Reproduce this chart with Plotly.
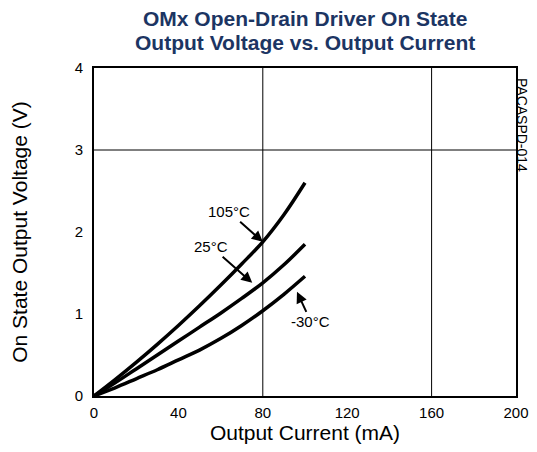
import plotly.graph_objects as go

current_ma = [0, 10, 20, 30, 40, 50, 60, 70, 80, 90, 100]
v_105c = [0, 0.20, 0.41, 0.63, 0.86, 1.10, 1.35, 1.61, 1.88, 2.21, 2.60]
v_25c = [0, 0.16, 0.33, 0.50, 0.67, 0.84, 1.01, 1.19, 1.38, 1.60, 1.85]
v_m30c = [0, 0.10, 0.21, 0.32, 0.44, 0.56, 0.70, 0.86, 1.04, 1.24, 1.46]
x_ticks = [0, 40, 80, 120, 160, 200]
y_ticks = [0, 1, 2, 3, 4]
grid_x = [80, 160]
grid_y = [3]
title_lines = ["OMx Open-Drain Driver On State", "Output Voltage vs. Output Current"]

font = "Liberation Sans, Arial, sans-serif"

fig = go.Figure()
for name, ys in [("105°C", v_105c), ("25°C", v_25c), ("-30°C", v_m30c)]:
    fig.add_trace(go.Scatter(x=current_ma, y=ys, mode="lines", name=name,
                             line=dict(color="black", width=3.5, shape="spline", smoothing=1.0),
                             showlegend=False))

for gx in grid_x:
    fig.add_shape(type="line", x0=gx, x1=gx, y0=0, y1=4, xref="x", yref="y",
                  line=dict(color="black", width=1), layer="below")
for gy in grid_y:
    fig.add_shape(type="line", x0=0, x1=200, y0=gy, y1=gy, xref="x", yref="y",
                  line=dict(color="black", width=1), layer="below")

ann = [
    dict(text="105°C", x=80, y=1.88, ax=-34, ay=-30),
    dict(text="25°C", x=75, y=1.38, ax=-41, ay=-36),
    dict(text="-30°C", x=96.2, y=1.27, ax=14, ay=30),
]
for a in ann:
    fig.add_annotation(x=a["x"], y=a["y"], ax=a["ax"], ay=a["ay"], text=a["text"],
                       showarrow=True, arrowhead=2, arrowsize=1.1, arrowwidth=2,
                       arrowcolor="black", standoff=0,
                       font=dict(family=font, size=15, color="black"))

for line, shift in zip(title_lines, [50, 26]):
    fig.add_annotation(text="<b>" + line + "</b>", xref="paper", yref="paper",
                       x=0.5, y=1, xanchor="center", yanchor="middle",
                       yshift=shift, showarrow=False,
                       font=dict(family=font, size=21, color="#1c3563"))

fig.add_annotation(text="PACASPD-014", xref="paper", yref="paper", x=1.0, y=1.0,
                   xanchor="center", yanchor="top", xshift=6, yshift=-8, showarrow=False,
                   textangle=90, font=dict(family=font, size=14, color="black"))

fig.update_layout(
    width=521, height=436,
    margin=dict(l=86, r=13, t=60, b=48),
    paper_bgcolor="white", plot_bgcolor="white",
    font=dict(family=font, color="black"),
    xaxis=dict(range=[0, 200], tickvals=x_ticks, showgrid=False, zeroline=False,
               showline=True, linecolor="black", linewidth=2, mirror=True,
               ticks="", tickfont=dict(size=15), ticklabelstandoff=2, automargin=False,
               title=dict(text="Output Current (mA)", font=dict(size=21), standoff=9)),
    yaxis=dict(range=[0, 4], tickvals=y_ticks, showgrid=False, zeroline=False,
               showline=True, linecolor="black", linewidth=2, mirror=True,
               ticks="", tickfont=dict(size=15), ticklabelstandoff=6, automargin=False,
               title=dict(text="On State Output Voltage (V)", font=dict(size=21), standoff=44)),
)

fig.write_html("out.html")
